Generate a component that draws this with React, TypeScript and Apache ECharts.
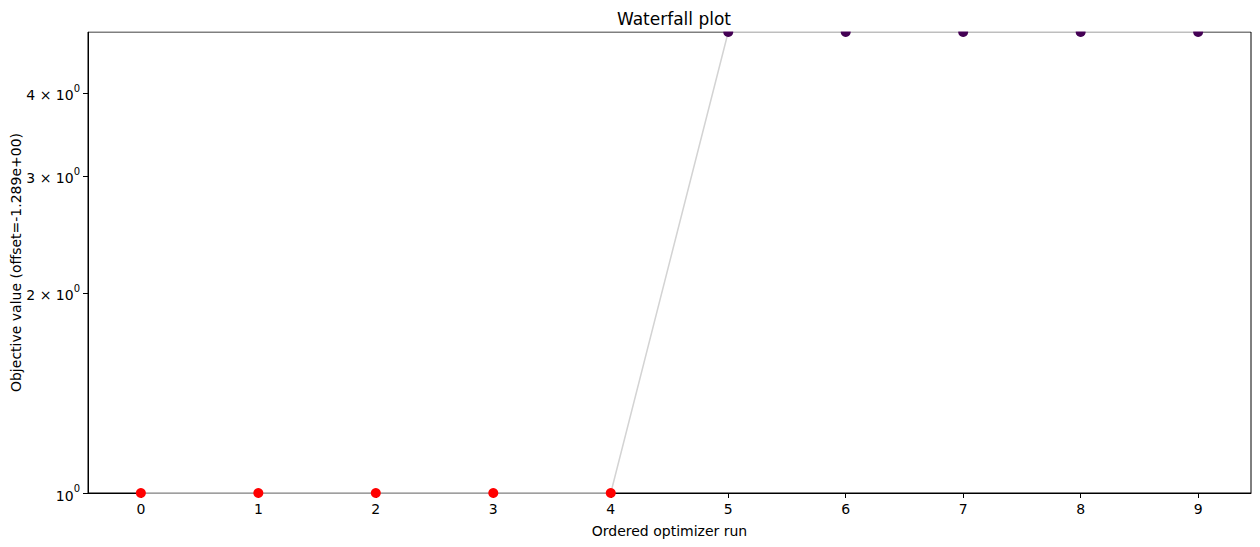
import React, { useEffect, useRef } from "react";
import * as echarts from "echarts";

const runs = [0, 1, 2, 3, 4, 5, 6, 7, 8, 9];
const objectiveValues = [1, 1, 1, 1, 1, 4.94, 4.94, 4.94, 4.94, 4.94];
const pointColors = ["#ff0000", "#ff0000", "#ff0000", "#ff0000", "#ff0000", "#440154", "#440154", "#440154", "#440154", "#440154"];
const yTickValues = [1, 2, 3, 4];
const yTickMantissas = ["", "2 × ", "3 × ", "4 × "];
const yMin = 1;
const yMax = 4.94;

const FONT = "DejaVu Sans";

export default function App() {
  const ref = useRef<HTMLDivElement>(null);
  useEffect(() => {
    if (!ref.current) return;
    const chart = echarts.init(ref.current, undefined, { renderer: "svg" });
    const logTicks = yTickValues.map((v) => Math.log10(v));
    const option = {
      animation: false,
      backgroundColor: "#ffffff",
      title: {
        text: "Waterfall plot",
        left: 669,
        top: 5,
        textAlign: "center",
        z: 200,
        textStyle: { fontFamily: FONT, fontSize: 17, fontWeight: "normal", color: "#000" },
      },
      grid: {
        left: 88,
        right: 9,
        top: 32,
        bottom: 54,
        show: true,
        borderColor: "#000",
        borderWidth: 1,
        backgroundColor: "transparent",
        containLabel: false,
        outerBoundsMode: "none",
      },
      graphic: [
        {
          type: "rect",
          z: 100,
          shape: { x: 80, y: 0, width: 1180, height: 31.5 },
          style: { fill: "#ffffff" },
          silent: true,
        },
      ],
      xAxis: {
        type: "value",
        min: -0.45,
        max: 9.45,
        name: "Ordered optimizer run",
        nameLocation: "middle",
        nameGap: 31,
        nameMoveOverlap: false,
        nameTextStyle: { fontFamily: FONT, fontSize: 14, color: "#000" },
        splitLine: { show: false },
        axisLine: { show: true, onZero: false, lineStyle: { color: "#000", width: 1 } },
        axisTick: { show: true, length: 5, lineStyle: { color: "#000" }, customValues: runs },
        axisLabel: {
          customValues: runs,
          margin: 9,
          fontFamily: FONT,
          fontSize: 14,
          color: "#000",
        },
      },
      yAxis: {
        type: "value",
        min: Math.log10(yMin),
        max: Math.log10(yMax),
        name: "Objective value (offset=-1.289e+00)",
        nameLocation: "middle",
        nameGap: 65,
        nameMoveOverlap: false,
        nameTextStyle: { fontFamily: FONT, fontSize: 14, color: "#000" },
        splitLine: { show: false },
        axisLine: { show: true, onZero: false, lineStyle: { color: "#000", width: 1 } },
        axisTick: { show: true, length: 5, lineStyle: { color: "#000" }, customValues: logTicks },
        axisLabel: {
          customValues: logTicks,
          margin: 8,
          fontFamily: FONT,
          fontSize: 14,
          color: "#000",
          formatter: (val: number) => {
            let best = 0;
            let bd = Infinity;
            logTicks.forEach((t, i) => {
              const d = Math.abs(t - val);
              if (d < bd) {
                bd = d;
                best = i;
              }
            });
            return "{m|" + yTickMantissas[best] + "10}{s|0}";
          },
          rich: {
            m: { fontFamily: FONT, fontSize: 14, color: "#000", lineHeight: 19, verticalAlign: "bottom" },
            s: { fontFamily: FONT, fontSize: 10, color: "#000", lineHeight: 11, verticalAlign: "top" },
          },
        },
      },
      series: [
        {
          type: "line",
          data: runs.map((r, i) => ({
            value: [r, Math.log10(objectiveValues[i])],
            itemStyle: { color: pointColors[i], borderWidth: 0 },
          })),
          symbol: "circle",
          symbolSize: 10,
          showAllSymbol: true,
          clip: false,
          lineStyle: { color: "#d3d3d3", width: 1.5 },
          itemStyle: { borderWidth: 0 },
          emphasis: { disabled: true },
        },
      ],
    };
    chart.setOption(option as any);
    return () => chart.dispose();
  }, []);
  return (
    <div
      ref={ref}
      style={{ position: "absolute", left: 0, top: 0, width: 1260, height: 547 }}
    />
  );
}
